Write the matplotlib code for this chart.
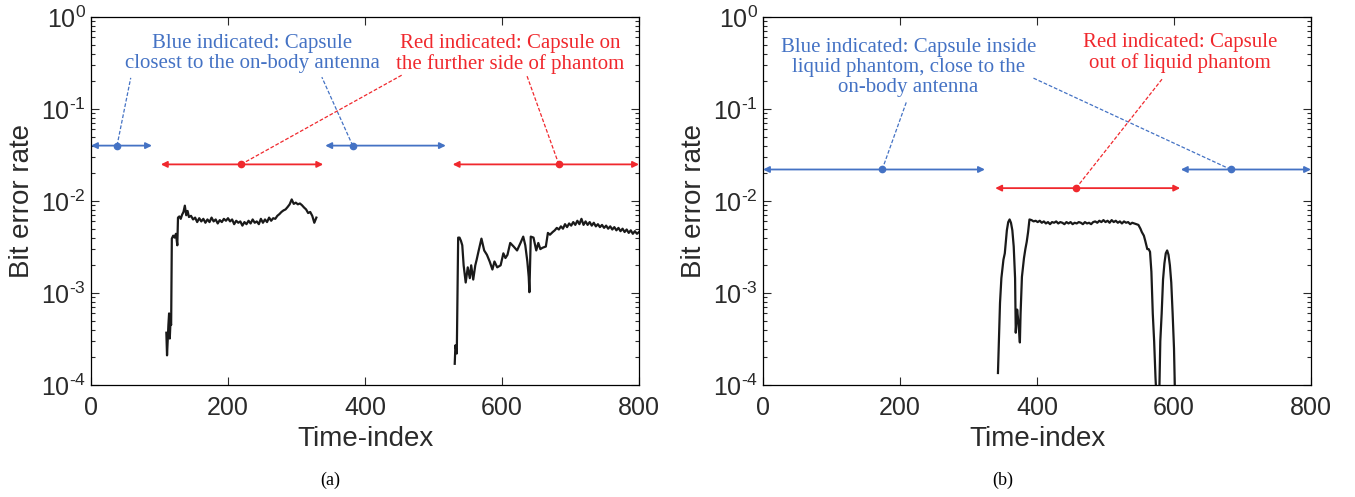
import matplotlib
matplotlib.use("Agg")
import matplotlib.pyplot as plt
import numpy as np
from matplotlib.ticker import FixedLocator, LogLocator, FuncFormatter, NullFormatter

plt.rcParams.update({
    "font.family": ["Liberation Sans", "DejaVu Sans"],
    "mathtext.fontset": "custom",
    "mathtext.rm": "Liberation Sans",
    "mathtext.it": "Liberation Sans:italic",
    "mathtext.bf": "Liberation Sans:bold",
    "axes.linewidth": 0.9,
})

INK = "#1a1a1a"
BLUE = "#4472c4"
RED = "#f0282d"
SERIF = ["Liberation Serif", "DejaVu Serif"]

# ---- panel (a) data: BER in units of 1e-3 ----
a1_x = [110, 111, 113, 114, 115, 116, 117, 118, 120, 122, 124, 126, 127, 129,
        131, 133, 135, 137, 139, 141, 143] + list(range(146, 332, 3))
a1_ber = [0.37, 0.21, 0.45, 0.60, 0.32, 0.48, 0.45, 3.9, 4.2, 4.0, 4.4, 3.3, 6.6, 6.8,
          6.4, 7.1, 7.6, 8.9, 7.0, 7.8, 6.7,
          6.9, 6.3, 6.6, 5.9, 6.5, 6.0, 6.4, 5.8, 6.3, 5.9,
          6.6, 6.0, 6.3, 5.7, 6.2, 5.9, 6.4, 6.1, 6.5, 6.0,
          6.3, 5.6, 6.1, 5.8, 6.0, 5.4, 5.9, 5.6, 6.1, 5.7,
          6.3, 5.8, 6.0, 5.6, 6.4, 5.8, 6.3, 5.9, 6.6, 6.1,
          6.5, 6.4, 6.9, 7.2, 7.6, 7.9, 8.1, 8.6, 9.2, 10.4,
          9.3, 9.6, 9.2, 9.4, 9.0, 8.5, 8.1, 7.4, 7.6, 6.9,
          5.8, 6.6]

a2_x = [531, 532, 534, 536, 538, 540, 542, 544, 547, 550,
        553, 555, 558, 561, 563, 566, 570, 574, 578, 582,
        586, 589, 593, 598, 602, 605, 608, 612, 617, 622,
        627, 631, 634, 637, 639, 640, 642, 646, 650, 653,
        656, 659, 664, 667, 670, 674] + list(range(677, 801, 3))
a2_ber = [0.17, 0.27, 0.22, 4.0, 4.0, 3.7, 3.3, 2.0, 1.3, 1.9,
          1.45, 2.0, 1.4, 2.0, 2.3, 2.9, 3.9, 2.9, 2.6, 2.2,
          1.8, 2.2, 1.9, 2.0, 2.7, 2.4, 2.6, 3.5, 3.2, 2.9,
          3.5, 4.1, 3.3, 2.2, 1.5, 1.02, 4.1, 4.0, 2.9, 3.5,
          3.0, 3.1, 3.2, 4.5, 4.3, 4.6,
          4.8, 5.1, 4.9, 5.3, 5.0, 5.6, 5.2, 5.7, 5.4, 5.9,
          5.5, 6.1, 5.6, 6.4, 5.5, 6.0, 5.5, 5.9, 5.4, 5.8,
          5.3, 5.6, 5.2, 5.5, 5.1, 5.4, 5.0, 5.3, 4.9, 5.2,
          4.8, 5.1, 4.7, 5.0, 4.6, 4.9, 4.5, 4.8, 4.4, 4.7,
          4.4, 4.6]

# ---- panel (b) data ----
b_x = [343, 346, 348, 351, 353, 356, 358, 360, 362, 364,
       366, 368, 369, 371, 373, 375, 376, 378, 381, 383,
       385, 387, 389] + list(range(392, 546, 3)) + \
      [548, 551, 553, 556, 558, 561, 563, 565, 567, 569,
       571, 573, 575, 577, 578, 580, 582, 584, 586, 588,
       590, 592, 594, 596, 598, 600, 602]
b_ber = [0.135, 0.78, 1.45, 2.3, 2.7, 4.8, 5.9, 6.3, 5.8, 4.8,
         3.2, 1.45, 0.37, 0.66, 0.47, 0.29, 0.59, 1.5, 2.4, 3.0,
         3.6, 4.6, 6.3,
         6.2, 6.0, 6.1, 5.9, 6.1, 5.8, 6.0, 5.7, 5.9, 5.6,
         5.9, 5.8, 6.0, 5.7, 5.9, 5.8, 5.6, 5.9, 5.7, 5.9,
         5.6, 5.8, 5.7, 5.9, 5.8, 5.6, 5.9, 5.7, 5.8, 5.6,
         5.9, 6.0, 5.8, 6.1, 5.9, 6.2, 5.9, 6.1, 5.8, 6.2,
         5.9, 6.1, 5.8, 6.0, 5.7, 6.0, 5.8, 5.9, 5.6, 5.8,
         5.7, 5.6,
         5.5, 5.0, 4.6, 4.2, 3.7, 3.0, 3.0, 2.8, 1.7, 0.6,
         0.3, 0.12, 0.06, 0.09, 0.05, 0.3, 0.6, 1.4, 2.1, 2.7,
         2.9, 2.6, 2.0, 1.3, 0.6, 0.25, 0.05]

# annotation ranges: (x_start, x_end, x_dot, y_level, color)
a_arrows = [(0, 89, 38, 0.040, BLUE), (342, 518, 382, 0.040, BLUE),
            (102, 339, 219, 0.025, RED), (528, 800, 683, 0.025, RED)]
a_leaders = [(38, 0.040, 58, 0.218, BLUE), (382, 0.040, 337, 0.222, BLUE),
             (219, 0.025, 454, 0.234, RED), (683, 0.025, 636, 0.234, RED)]
a_texts = [(235, 0.40, "Blue indicated: Capsule\nclosest to the on-body antenna", BLUE),
           (612, 0.40, "Red indicated: Capsule on\nthe further side of phantom", RED)]

b_arrows = [(0, 324, 174, 0.022, BLUE), (610, 800, 683, 0.022, BLUE),
            (339, 609, 457, 0.0138, RED)]
b_leaders = [(174, 0.022, 210, 0.123, BLUE), (683, 0.022, 394, 0.218, BLUE),
             (457, 0.0138, 584, 0.218, RED)]
b_texts = [(212, 0.28, "Blue indicated: Capsule inside\nliquid phantom, close to the\non-body antenna", BLUE),
           (609, 0.41, "Red indicated: Capsule\nout of liquid phantom", RED)]

fig = plt.figure(figsize=(13.55, 4.97), dpi=100)
ax_a = fig.add_axes([91 / 1355, 112 / 497, 548 / 1355, 368 / 497])
ax_b = fig.add_axes([763 / 1355, 112 / 497, 548 / 1355, 368 / 497])


def decade_label(v, pos):
    n = int(round(np.log10(v)))
    return f"$10^{{\\text{{{n}}}}}$"


def style(ax):
    ax.set_yscale("log")
    ax.set_xlim(0, 800)
    ax.set_ylim(1e-4, 1)
    ax.xaxis.set_major_locator(FixedLocator([0, 200, 400, 600, 800]))
    ax.yaxis.set_major_locator(LogLocator(base=10, numticks=10))
    ax.yaxis.set_minor_locator(LogLocator(base=10, subs=np.arange(2, 10), numticks=10))
    ax.yaxis.set_major_formatter(FuncFormatter(decade_label))
    ax.yaxis.set_minor_formatter(NullFormatter())
    ax.tick_params(which="both", direction="in", top=True, right=True,
                   labelsize=18, colors="#2a2a2a", width=0.8)
    ax.tick_params(which="major", length=6)
    ax.tick_params(which="minor", length=3)
    ax.tick_params(axis="x", pad=8)
    ax.set_xlabel("Time-index", fontsize=20, color="#2a2a2a", labelpad=4)
    ax.set_ylabel("Bit error rate", fontsize=20, color="#2a2a2a", labelpad=4)


def annotate(ax, arrows, leaders, texts):
    for x0, x1, xd, y, c in arrows:
        ax.annotate("", xy=(x1, y), xytext=(x0, y),
                    arrowprops=dict(arrowstyle="<|-|>", color=c, lw=1.3,
                                    mutation_scale=9, shrinkA=0, shrinkB=0),
                    annotation_clip=False)
        ax.plot(xd, y, "o", ms=4.5, color=c, zorder=4, clip_on=False)
    for x0, y0, x1, y1, c in leaders:
        ax.plot([x0, x1], [y0, y1], color=c, lw=0.9, dashes=(3, 1.5))
    for x, y, s, c in texts:
        ax.text(x, y, s, color=c, ha="center", va="center", fontsize=15,
                family=SERIF, linespacing=1.08)


style(ax_a)
ax_a.plot(a1_x, np.array(a1_ber) * 1e-3, color=INK, lw=1.6)
ax_a.plot(a2_x, np.array(a2_ber) * 1e-3, color=INK, lw=1.6)
annotate(ax_a, a_arrows, a_leaders, a_texts)

style(ax_b)
ax_b.plot(b_x, np.array(b_ber) * 1e-3, color=INK, lw=1.6)
annotate(ax_b, b_arrows, b_leaders, b_texts)

fig.text(330 / 1355, 1 - 480 / 497, "(a)", ha="center", va="center", fontsize=13, family=SERIF)
fig.text(1003 / 1355, 1 - 480 / 497, "(b)", ha="center", va="center", fontsize=13, family=SERIF)

fig.savefig("out.png", dpi=100)
